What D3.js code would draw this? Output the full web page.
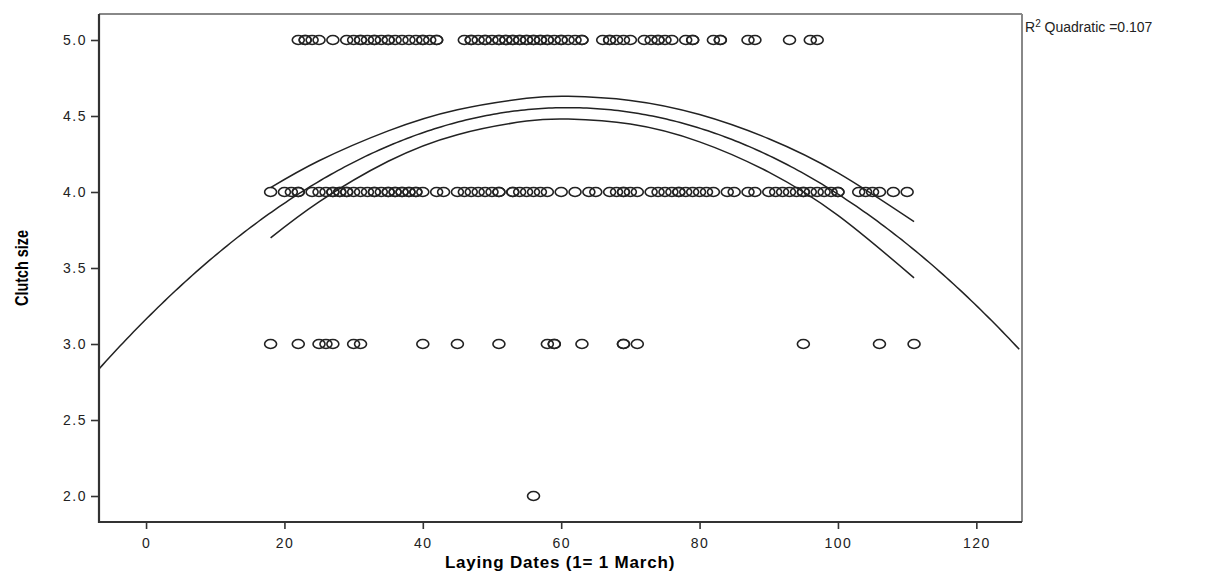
<!DOCTYPE html>
<html>
<head>
<meta charset="utf-8">
<script src="https://cdn.jsdelivr.net/npm/d3@7"></script>
<style>
  body { margin: 0; background: #fff; }
  svg { display: block; }
  .tick text { font-family: "Liberation Sans", Arial, sans-serif; font-size: 14px; letter-spacing: 1.5px; fill: #222; }
</style>
</head>
<body>
<script>
// Clutch size vs laying date
var days3 = [18, 22, 25, 26, 27, 30, 31, 40, 45, 51, 58, 59, 59, 63, 69, 69, 71, 95, 106, 111];
var days2 = [56];
var days4 = [18, 20, 21, 22, 22, 24, 25, 26, 27, 27, 28, 28, 29, 29, 30, 31, 32, 33, 33, 34,
    35, 35, 36, 36, 37, 37, 38, 38, 39, 39, 40, 42, 43, 45, 46, 47, 48, 49, 50, 51, 51, 53,
    53, 54, 55, 56, 57, 58, 60, 62, 64, 65, 67, 68, 69, 69, 70, 71, 73, 74, 75, 76, 77, 77,
    78, 79, 80, 81, 82, 84, 85, 87, 88, 90, 91, 92, 93, 94, 95, 95, 96, 97, 98, 99, 100, 100,
    103, 104, 105, 106, 108, 110];
var days5 = [22, 23, 23, 24, 25, 27, 29, 30, 31, 31, 32, 33, 33, 34, 35, 35, 36, 37, 38, 39,
    40, 40, 41, 42, 42, 46, 47, 47, 48, 49, 49, 50, 51, 51, 52, 52, 53, 53, 54, 54, 55, 55,
    56, 56, 57, 57, 58, 58, 59, 60, 60, 61, 62, 63, 63, 66, 67, 67, 68, 69, 70, 72, 73, 74,
    74, 75, 76, 78, 79, 79, 82, 83, 83, 87, 88, 93, 96, 97];

// quadratic fit (vertex form) and half width of the mean band
var fitPeakX = 61, fitPeakY = 4.555, fitCurv = -3.74e-4;
var bandX =  [18, 25, 35, 45, 55, 61, 70, 80, 90, 100, 111];
var bandHW = [0.165, 0.135, 0.10, 0.082, 0.075, 0.075, 0.078, 0.09, 0.11, 0.14, 0.185];

var xTicks = [0, 20, 40, 60, 80, 100, 120];
var yTicks = [2.0, 2.5, 3.0, 3.5, 4.0, 4.5, 5.0];

var W = 1228, H = 575;
var plotL = 99, plotR = 1022, plotT = 14, plotB = 522;

var svg = d3.select("body").append("svg").attr("width", W).attr("height", H);

var x = d3.scaleLinear().domain([-6.8, 126.6]).range([plotL, plotR]);
var y = d3.scaleLinear().domain([1.829, 5.171]).range([plotB, plotT]);

function fit(d) { return fitPeakY + fitCurv * (d - fitPeakX) * (d - fitPeakX); }

// frame: top and right in grey
svg.append("line").attr("x1", plotL).attr("x2", plotR).attr("y1", plotT).attr("y2", plotT)
    .attr("stroke", "#888").attr("stroke-width", 2);
svg.append("line").attr("x1", plotR).attr("x2", plotR).attr("y1", plotT).attr("y2", plotB)
    .attr("stroke", "#888").attr("stroke-width", 2);

var points = [];
days2.forEach(function(d) { points.push([d, 2]); });
days3.forEach(function(d) { points.push([d, 3]); });
days4.forEach(function(d) { points.push([d, 4]); });
days5.forEach(function(d) { points.push([d, 5]); });

svg.append("g").selectAll("ellipse")
    .data(points)
    .enter()
    .append("ellipse")
    .attr("cx", function(d) { return x(d[0]); })
    .attr("cy", function(d) { return y(d[1]); })
    .attr("rx", 6).attr("ry", 4.5)
    .attr("fill", "none")
    .attr("stroke", "#222")
    .attr("stroke-width", 1.6);

// fitted curve over the whole axis
var fitX = d3.range(-6.8, 126.7, 0.5);
var line = d3.line()
    .x(function(d) { return x(d[0]); })
    .y(function(d) { return y(d[1]); });

svg.append("path")
    .datum(fitX.map(function(d) { return [d, fit(d)]; }))
    .attr("d", line)
    .attr("fill", "none").attr("stroke", "#222").attr("stroke-width", 1.5);

var bandLine = d3.line()
    .x(function(d) { return x(d[0]); })
    .y(function(d) { return y(d[1]); })
    .curve(d3.curveNatural);

[1, -1].forEach(function(sign) {
    svg.append("path")
        .datum(bandX.map(function(d, i) { return [d, fit(d) + sign * bandHW[i]]; }))
        .attr("d", bandLine)
        .attr("fill", "none").attr("stroke", "#222").attr("stroke-width", 1.5);
});

// axes
var xAxis = svg.append("g")
    .attr("transform", "translate(0," + plotB + ")")
    .call(d3.axisBottom(x).tickValues(xTicks).tickSize(7).tickPadding(6).tickFormat(d3.format("d")));
var yAxis = svg.append("g")
    .attr("transform", "translate(" + plotL + ",0)")
    .call(d3.axisLeft(y).tickValues(yTicks).tickSize(8).tickPadding(4).tickFormat(d3.format(".1f")));

[xAxis, yAxis].forEach(function(a) {
    a.select(".domain").attr("stroke", "#333").attr("stroke-width", 2.2);
    a.selectAll(".tick line").attr("stroke", "#333").attr("stroke-width", 1.6);
});
xAxis.select(".domain").attr("d", "M" + (plotL - 1) + ",0H" + plotR);
yAxis.select(".domain").attr("d", "M0," + plotT + "V" + (plotB + 1));
xAxis.selectAll(".tick text").attr("dy", "0.9em");

// titles
svg.append("text")
    .attr("x", 560).attr("y", 568)
    .attr("text-anchor", "middle")
    .style("font-family", "'Liberation Sans', Arial, sans-serif")
    .style("font-size", "17px").style("font-weight", "bold")
    .style("letter-spacing", "0.8px")
    .text("Laying Dates (1= 1 March)");

svg.append("text")
    .attr("transform", "translate(28,268) rotate(-90) scale(0.8,1)")
    .attr("text-anchor", "middle")
    .style("font-family", "'Liberation Sans', Arial, sans-serif")
    .style("font-size", "18px").style("font-weight", "bold")
    .text("Clutch size");

var r2 = svg.append("text")
    .attr("x", 1025).attr("y", 32)
    .style("font-family", "'Liberation Sans', Arial, sans-serif")
    .style("font-size", "14px").style("fill", "#222");
r2.append("tspan").text("R");
r2.append("tspan").attr("dy", -5).style("font-size", "10px").text("2");
r2.append("tspan").attr("dy", 5).text(" Quadratic =0.107");
</script>
</body>
</html>
